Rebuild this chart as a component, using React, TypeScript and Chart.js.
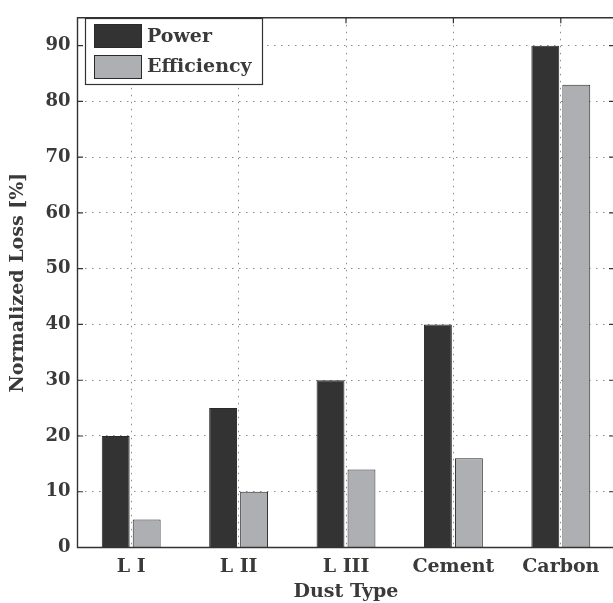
import React, { useEffect, useRef } from "react";
import { Chart, registerables } from "chart.js";

Chart.register(...registerables);

// Dust types on the x axis and the two loss series (percent)
const categories = ["L I", "L II", "L III", "Cement", "Carbon"];
const powerLoss = [20, 25, 30, 40, 90];
const efficiencyLoss = [5, 10, 14, 16, 83];
const yTicks = [0, 10, 20, 30, 40, 50, 60, 70, 80, 90];

const seriesNames = ["Power", "Efficiency"];
const seriesColors = ["#333333", "#aeafb2"];
const edgeColor = "#2a2a2a";
const axisColor = "#333333";
const gridColor = "#8c8c8c";
const FONT = "'DejaVu Serif', serif";

// Frame, inward tick marks and a boxed legend in the upper-left corner
const framePlugin = {
  id: "frame",
  afterDatasetsDraw(chart: any) {
    const { ctx, chartArea } = chart;
    const { left, right, top, bottom } = chartArea;
    const ys = chart.scales.y;
    const xs = chart.scales.x;
    ctx.save();
    ctx.strokeStyle = axisColor;
    ctx.lineWidth = 1.4;
    ctx.setLineDash([]);
    ctx.beginPath();
    ctx.moveTo(right + 2, bottom);
    ctx.lineTo(left, bottom);
    ctx.lineTo(left, top);
    ctx.lineTo(right + 2, top);
    ctx.stroke();

    const tl = 5.5;
    ctx.lineWidth = 1.2;
    ctx.beginPath();
    yTicks.forEach((v) => {
      const py = ys.getPixelForValue(v);
      ctx.moveTo(left, py);
      ctx.lineTo(left + tl, py);
      ctx.moveTo(right, py);
      ctx.lineTo(right - tl, py);
    });
    categories.forEach((_c, i) => {
      const px = xs.getPixelForValue(i);
      ctx.moveTo(px, top);
      ctx.lineTo(px, top + tl);
    });
    ctx.stroke();

    // legend
    const bx = 85.5, by = 18.5, bw = 177, bh = 66;
    ctx.fillStyle = "#ffffff";
    ctx.fillRect(bx, by, bw, bh);
    ctx.strokeStyle = axisColor;
    ctx.lineWidth = 1.2;
    ctx.strokeRect(bx, by, bw, bh);
    const rows = [
      { sy: 24.5, base: 41.5 },
      { sy: 55.5, base: 72 },
    ];
    ctx.font = `bold 19px ${FONT}`;
    ctx.textAlign = "left";
    ctx.textBaseline = "alphabetic";
    chart.data.datasets.forEach((ds: any, i: number) => {
      const r = rows[i];
      ctx.fillStyle = ds.backgroundColor;
      ctx.fillRect(94.5, r.sy, 47, 23);
      ctx.strokeStyle = edgeColor;
      ctx.lineWidth = 1;
      ctx.strokeRect(94.5, r.sy, 47, 23);
      ctx.fillStyle = "#3a3a3a";
      ctx.fillText(ds.label, 147, r.base);
    });
    ctx.restore();
  },
};

export default function App() {
  const canvasRef = useRef<HTMLCanvasElement | null>(null);

  useEffect(() => {
    if (!canvasRef.current) return;
    const chart = new Chart(canvasRef.current, {
      type: "bar",
      data: {
        labels: categories,
        datasets: [
          {
            label: seriesNames[0],
            data: powerLoss,
            backgroundColor: seriesColors[0],
            borderColor: edgeColor,
            borderWidth: 1,
            barPercentage: 0.9,
            categoryPercentage: 0.577,
          },
          {
            label: seriesNames[1],
            data: efficiencyLoss,
            backgroundColor: seriesColors[1],
            borderColor: edgeColor,
            borderWidth: 1,
            barPercentage: 0.9,
            categoryPercentage: 0.577,
          },
        ],
      },
      options: {
        responsive: false,
        animation: false,
        devicePixelRatio: 1,
        layout: { padding: { left: 0, top: 12, right: 5.5, bottom: 0 } },
        plugins: {
          legend: { display: false },
          tooltip: { enabled: false },
        },
        scales: {
          x: {
            afterFit: (s: any) => {
              s.height = 55.5;
            },
            grid: {
              offset: false,
              drawTicks: false,
              color: gridColor,
              lineWidth: 1,
            },
            border: { display: false, dash: [1.5, 5.5] },
            ticks: {
              padding: 8,
              color: "#3a3a3a",
              font: { family: FONT, size: 19, weight: "bold" },
            },
            title: {
              display: true,
              text: "Dust Type",
              color: "#3a3a3a",
              padding: { top: 0, bottom: 0 },
              font: { family: FONT, size: 19, weight: "bold", lineHeight: 1.2 },
            },
          },
          y: {
            min: 0,
            max: 95,
            afterFit: (s: any) => {
              s.width = 77.5;
            },
            afterBuildTicks: (s: any) => {
              s.ticks = yTicks.map((v) => ({ value: v }));
            },
            grid: {
              drawTicks: false,
              color: gridColor,
              lineWidth: 1,
            },
            border: { display: false, dash: [1.5, 5.5] },
            ticks: {
              padding: 7,
              color: "#3a3a3a",
              font: { family: FONT, size: 18, weight: "bold" },
            },
            title: {
              display: true,
              text: "Normalized Loss [%]",
              color: "#3a3a3a",
              padding: { top: 7, bottom: 0 },
              font: { family: FONT, size: 19, weight: "bold", lineHeight: 1.2 },
            },
          },
        },
      },
      plugins: [framePlugin],
    });
    return () => chart.destroy();
  }, []);

  return (
    <div
      style={{
        position: "fixed",
        left: 0,
        top: 0,
        width: 613,
        height: 603,
        overflow: "hidden",
        background: "#ffffff",
      }}
    >
      <canvas ref={canvasRef} width={620} height={603} style={{ width: 620, height: 603 }} />
    </div>
  );
}
